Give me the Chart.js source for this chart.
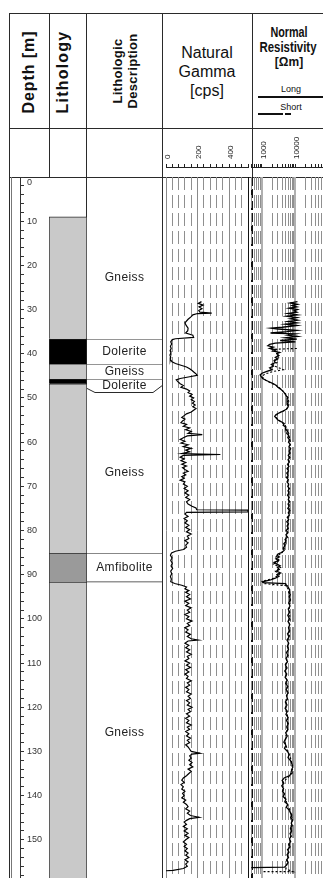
<!DOCTYPE html>
<html><head><meta charset="utf-8">
<script src="https://cdn.jsdelivr.net/npm/chart.js@4.4.1/dist/chart.umd.min.js"></script>
<style>
html,body{margin:0;padding:0;background:#fff;}
#wrap{position:relative;width:323px;height:878px;overflow:hidden;font-family:"Liberation Sans",Arial,sans-serif;color:#111;}
canvas{position:absolute;}
.ln{position:absolute;background:#2a2a2a;}
.t{position:absolute;white-space:nowrap;text-align:center;}
.rot{transform:translate(-50%,-50%) rotate(-90deg);font-weight:bold;}
.ctr{transform:translate(-50%,-50%);}
</style></head><body><div id="wrap">

<!-- header frame -->
<div class="ln" style="left:9px;top:13px;width:314px;height:1px"></div>
<div class="ln" style="left:9px;top:128px;width:314px;height:1px"></div>
<div class="ln" style="left:9px;top:177px;width:314px;height:1px"></div>
<div class="ln" style="left:9px;top:13px;width:1px;height:865px"></div>
<div class="ln" style="left:11px;top:177px;width:1px;height:701px;background:#777"></div>
<div class="ln" style="left:49px;top:13px;width:1px;height:164px"></div>
<div class="ln" style="left:86px;top:13px;width:1px;height:865px"></div>
<div class="ln" style="left:162px;top:13px;width:1px;height:865px"></div>
<div class="ln" style="left:252px;top:13px;width:1px;height:164px"></div>
<div class="ln" style="left:248px;top:177px;width:1px;height:701px;background:#111"></div>
<div class="ln" style="left:251px;top:177px;width:2px;height:701px;background:repeating-linear-gradient(to bottom,#111 0 9px,transparent 9px 12px)"></div>

<!-- header texts -->
<div class="t rot" style="left:29px;top:72px;font-size:16px;letter-spacing:0.9px">Depth [m]</div>
<div class="t rot" style="left:63px;top:72px;font-size:16px;letter-spacing:1.2px">Lithology</div>
<div class="t rot" style="left:125px;top:71px;font-size:13px;line-height:15px;letter-spacing:0.3px">Lithologic<br>Description</div>
<div class="t ctr" style="left:207px;top:71px;font-size:16px;line-height:19px;">Natural<br>Gamma<br>[cps]</div>
<div class="t ctr" style="left:289px;top:31px;font-size:15px;font-weight:bold;transform:translate(-50%,-50%) scaleX(0.72)">Normal</div>
<div class="t ctr" style="left:288px;top:46px;font-size:15px;font-weight:bold;transform:translate(-50%,-50%) scaleX(0.76)">Resistivity</div>
<div class="t ctr" style="left:289px;top:62px;font-size:12px;font-weight:bold;">[Ωm]</div>
<div class="t ctr" style="left:291px;top:89px;font-size:9px;">Long</div>
<div class="ln" style="left:258px;top:96px;width:65px;height:2px;background:#111"></div>
<div class="t ctr" style="left:291px;top:107px;font-size:9px;">Short</div>
<div class="ln" style="left:258px;top:113px;width:65px;height:2px;background:linear-gradient(to right,#111 0 25px,transparent 25px),repeating-linear-gradient(to right,transparent 0 27px,#111 27px 33px,transparent 33px 40px)"></div>

<canvas id="cDepth"></canvas>
<canvas id="cLith"></canvas>
<canvas id="cDesc"></canvas>
<canvas id="cGamS"></canvas>
<canvas id="cGam"></canvas>
<canvas id="cResS"></canvas>
<canvas id="cRes"></canvas>
</div>
<script>
// ---------------- data ----------------
const depthLabels = [0,10,20,30,40,50,60,70,80,90,100,110,120,130,140,150,160];
const lithRock   = ['Gneiss','Dolerite','Gneiss','Dolerite','Gneiss','Amfibolite','Gneiss'];
const lithTop    = [9, 36.6, 42.3, 45.7, 46.8, 85.1, 91.7];
const lithBottom = [36.6, 42.3, 45.7, 46.8, 85.1, 91.7, 160];
const descLabel  = ['Gneiss','Dolerite','Gneiss','Dolerite','Gneiss','Amfibolite','Gneiss'];
const descTop    = [9, 36.6, 42.3, 45.7, 48.6, 85.1, 91.7];
const descBottom = [36.6, 42.3, 45.7, 48.6, 85.1, 91.7, 160];

const gammaGrid   = [0,40,80,120,160,200,240,280,320,360,400,440,480,520];
const gammaLabels = [0,200,400];
const resGrid     = [500,600,700,800,900,1000,2000,3000,4000,5000,6000,7000,8000,9000,10000,20000,30000,40000,50000,60000,70000,80000,90000,100000];
const resLabels   = [1000,10000,100000];

const gammaDepth = [28.2,28.6,29.0,29.4,29.8,30.2,30.6,30.8,30.9,31.2,31.6,32.2,33.0,33.6,34.2,34.8,35.3,35.8,36.3,36.6,36.8,37.3,37.8,38.3,38.8,39.3,39.8,40.3,40.8,41.3,41.8,42.2,42.6,43.0,43.4,43.8,44.2,44.6,44.9,45.2,45.6,45.9,46.3,46.8,47.2,47.6,48.0,48.4,48.8,49.2,49.6,50.0,50.4,50.8,51.2,51.6,52.0,52.4,52.8,53.2,53.6,54.0,54.4,54.8,55.2,55.6,56.0,56.4,56.8,57.2,57.6,58.0,58.3,58.6,59.0,59.4,59.8,60.2,60.6,61.0,61.4,61.8,62.2,62.6,62.8,63.0,63.4,63.8,64.2,64.6,65.0,65.4,65.8,66.2,66.6,67.0,67.4,67.8,68.2,68.6,69.0,69.5,70.0,70.5,71.0,71.5,72.0,72.5,73.0,73.5,74.0,74.5,74.9,75.3,75.4,75.8,75.9,76.3,76.8,77.3,77.8,78.3,78.8,79.3,79.8,80.3,80.8,81.3,81.8,82.3,82.8,83.3,83.8,84.3,84.7,85.1,85.6,86.2,86.8,87.4,88.0,88.6,89.2,89.8,90.4,91.0,91.6,92.0,92.4,92.8,93.2,93.6,94.0,94.5,95.0,95.5,96.0,96.5,97.0,97.5,98.0,98.5,99.0,99.5,100.0,100.5,101.0,101.5,102.0,102.5,103.0,103.5,104.0,104.5,104.8,105.0,105.5,106.0,106.5,107.0,107.5,108.0,108.5,109.0,109.5,110.0,110.5,111.0,111.5,112.0,112.5,113.0,113.5,114.0,114.5,115.0,115.5,116.0,116.5,117.0,117.5,118.0,118.5,119.0,119.5,120.0,120.5,121.0,121.5,122.0,122.5,123.0,123.5,124.0,124.5,125.0,125.5,126.0,126.5,127.0,127.5,128.0,128.5,129.0,129.5,130.0,130.4,130.6,131.0,131.5,132.0,132.5,133.0,133.5,134.0,134.5,135.0,135.5,136.0,136.5,137.0,137.5,138.0,138.5,139.0,139.5,140.0,140.5,141.0,141.5,142.0,142.5,143.0,143.5,144.0,144.5,144.9,145.2,145.6,146.0,146.5,147.0,147.5,148.0,148.5,149.0,149.5,150.0,150.5,151.0,151.5,152.0,152.5,153.0,153.5,154.0,154.5,155.0,155.5,156.0,156.5,156.9,157.0];
const gammaCps = [225,205,235,210,228,208,215,290,200,170,160,140,120,128,140,138,125,170,175,60,40,30,36,28,33,26,31,25,30,27,38,60,95,130,150,165,178,192,198,150,90,65,75,90,110,95,130,150,140,165,150,175,160,180,168,185,170,190,175,160,130,115,100,120,105,95,130,110,150,125,160,140,230,135,110,90,120,95,140,110,160,125,150,100,345,110,90,115,95,125,100,130,105,120,140,110,125,100,115,90,120,110,135,115,140,120,145,125,150,130,140,165,190,195,520,520,130,120,140,115,135,120,145,125,150,130,160,135,145,120,140,125,130,110,60,35,28,38,30,40,32,42,30,36,28,34,30,55,100,130,120,145,125,150,130,155,120,145,125,160,135,150,120,145,130,165,135,150,120,140,125,155,135,160,205,140,120,145,125,150,130,160,135,145,120,150,130,155,125,145,120,140,130,160,135,150,125,145,130,160,140,155,130,150,135,165,140,155,130,150,125,145,130,160,135,150,125,145,130,155,135,150,125,140,150,160,215,165,150,160,145,165,150,170,140,160,145,130,110,100,115,95,110,100,120,105,115,100,125,110,130,140,125,150,135,155,210,150,130,115,130,110,135,115,140,120,145,125,110,130,115,135,120,140,125,145,120,140,125,135,110,45,0];

const resLongDepth = [28.2,28.5,28.8,29.1,29.4,29.7,30.0,30.3,30.6,30.9,31.2,31.5,31.8,32.1,32.4,32.7,33.0,33.3,33.6,34.0,34.2,34.4,34.7,35.0,35.3,35.5,35.8,36.1,36.4,36.7,37.0,37.3,37.6,37.9,38.2,38.5,38.8,39.1,39.4,39.7,40.0,40.4,40.8,41.2,41.6,42.0,42.4,42.8,43.2,43.6,44.0,44.4,44.8,45.2,45.6,46.0,46.4,46.8,47.2,47.6,48.0,48.4,48.8,49.2,49.6,50.0,50.5,51.0,51.5,52.0,52.5,53.0,53.4,53.8,54.2,54.6,55.0,55.4,55.8,56.2,56.6,57.0,57.5,58.0,58.5,59.0,59.5,60.0,60.5,61.0,61.5,62.0,62.5,63.0,63.5,64.0,64.5,65.0,65.5,66.0,66.5,67.0,67.5,68.0,68.5,69.0,69.5,70.0,70.5,71.0,71.5,72.0,72.5,73.0,73.5,74.0,74.5,75.0,75.5,76.0,76.5,77.0,77.5,78.0,78.5,79.0,79.5,80.0,80.5,81.0,81.5,82.0,82.5,83.0,83.5,84.0,84.5,85.0,85.3,85.6,86.0,86.4,86.8,87.2,87.6,88.0,88.4,88.8,89.2,89.6,90.0,90.4,90.8,91.2,91.6,91.8,92.0,92.3,92.6,93.0,93.5,94.0,94.5,95.0,95.7,96.4,97.1,97.8,98.5,99.2,99.9,100.6,101.3,102.0,102.7,103.4,104.1,104.8,105.5,106.2,106.9,107.6,108.3,109.0,109.7,110.4,111.1,111.8,112.5,113.2,113.9,114.6,115.3,116.0,116.7,117.4,118.1,118.8,119.5,120.2,120.9,121.6,122.3,123.0,123.7,124.4,125.1,125.8,126.5,127.2,127.9,128.6,129.3,130.0,130.7,131.4,132.1,132.8,133.5,134.2,134.9,135.5,136.0,136.6,137.2,137.8,138.4,139.0,139.6,140.2,140.8,141.4,142.0,142.6,143.2,143.8,144.4,145.0,145.6,146.2,146.8,147.4,148.0,148.6,149.2,149.8,150.4,151.0,151.6,152.2,152.8,153.4,154.0,154.6,155.2,155.8,156.2,156.3];
const resLong = [11500,7000,11500,8000,11000,6500,11500,9000,11000,6000,11500,5500,11000,7000,11500,6000,11000,5000,11000,4000,1900,3000,11000,5500,1800,10000,6000,11500,5000,11000,3500,10000,2500,1700,1500,2200,1700,2600,2100,3400,2800,3200,2500,2900,2300,2500,1900,2200,1700,2000,1400,1000,880,950,1050,1300,1700,2200,2700,3000,3600,4100,4600,5000,5400,5800,5600,6000,5700,6100,5500,4200,3200,2600,2400,2700,3000,3800,4600,4300,5200,5000,5800,5500,6300,5900,6800,6200,7000,6400,7200,6500,6900,6100,6800,6000,6600,5800,6400,5600,6200,5500,6000,5400,6100,5600,6300,5900,6600,6000,6400,5800,6500,6100,6700,6000,6500,5900,6800,6100,6600,5700,6300,5500,6200,5600,6100,5300,6000,5200,5800,4900,5200,4500,4800,4300,4600,3800,3000,2800,3300,2600,3100,2300,2800,3500,2900,3300,2700,3600,2800,3200,2500,1800,1050,1100,5000,5200,5900,6200,6800,6300,7000,6500,7100,6300,6900,6100,6700,5900,6600,6000,6800,6200,6700,5800,6400,5600,6300,5700,6200,5400,6000,5200,5800,5000,5600,4800,5500,4900,5700,5100,5900,5300,6000,5400,5800,5000,5600,4900,5700,5200,6000,5400,6100,5500,5900,5100,5700,5000,4500,5200,4700,5800,6500,6000,7200,7800,8400,7600,8000,6500,4600,4000,4500,3900,4400,4100,4700,4300,5200,4800,5900,5300,6400,7000,7800,7200,8300,7500,8000,7100,7700,6900,7500,6600,7200,6300,6900,5800,6400,5600,6200,5400,6000,5300,4700,480];

const resShortDepth = [38.8,39.0,39.6,40.2,40.8,41.4,42.0,42.6,43.2,43.6,44.0,44.6,45.2,45.8,46.4,47.0,47.6,48.4,49.2,50.0,51.0,52.0,52.8,53.6,54.4,55.2,56.0,57.0,58.0,60.0,62.0,64.0,66.0,68.0,70.0,72.0,74.0,76.0,78.0,80.0,82.0,84.0,85.0,86.0,86.8,87.6,88.4,89.2,90.0,90.8,91.5,92.0,92.5,94.0,96.0,98.0,100.0,102.0,104.0,106.0,108.0,110.0,112.0,114.0,116.0,118.0,120.0,122.0,124.0,126.0,128.0,130.0,132.0,134.0,135.5,137.0,139.0,141.0,143.0,145.0,147.0,149.0,151.0,153.0,155.0,156.6,157.2,157.2];
const resShort = [11000,2000,3000,2600,3400,2400,2800,2100,3300,4300,2200,1200,1000,1200,1600,2400,3200,4200,5200,6000,6400,6200,4800,2900,2600,3400,4800,5500,6300,7000,6800,6400,6000,5800,6300,6200,6500,6500,6000,5700,5200,4700,4000,2600,3400,2200,3600,2500,3300,2200,1000,1100,5400,6700,6800,6500,6900,6400,6600,6000,5800,5300,5100,5500,5600,5600,5200,5800,5800,5400,4900,6000,7500,8200,6800,4200,4300,5100,6600,7900,7600,7200,6600,6000,5700,5200,8300,1050];

// ---------------- helpers ----------------
Chart.defaults.font.family = '"Liberation Sans", Arial, sans-serif';
Chart.defaults.color = '#222';
function cv(id, x, y, w, h){
  const c = document.getElementById(id);
  c.width = w; c.height = h;
  c.style.left = x + 'px'; c.style.top = y + 'px';
  c.style.width = w + 'px'; c.style.height = h + 'px';
  return c;
}
const base = {animation:false, responsive:false, events:[], devicePixelRatio:1,
  plugins:{legend:{display:false}, tooltip:{enabled:false}}};
function opts(extra){ return Object.assign({}, base, extra); }
const depthAxis = {type:'linear', reverse:true, min:0, max:160, display:false};
const rockColor = {Gneiss:'#c9c9c9', Dolerite:'#000000', Amfibolite:'#9a9a9a'};

// ---------------- depth axis ----------------
const depthTicks = [];
for (let d = 0; d <= 160; d += 2) depthTicks.push(d);
new Chart(cv('cDepth', 10, 170, 39, 724), {
  type:'scatter', data:{datasets:[]},
  options: opts({
    layout:{padding:{top:7, bottom:10, left:0, right:0}},
    scales:{
      x:{display:false, min:0, max:1},
      y:{type:'linear', position:'right', reverse:true, min:0, max:160,
        afterBuildTicks: s => { s.ticks = depthTicks.map(v => ({value:v})); },
        afterFit: s => { s.width = 29; s.paddingTop = 0; s.paddingBottom = 0; },
        grid:{drawOnChartArea:false, drawTicks:true, tickLength:4, color:'#333'},
        border:{display:true, color:'#333'},
        ticks:{autoSkip:false, padding:3, color:'#333', font:{size:9},
          callback: v => v === 0 ? ['', '0'] : (depthLabels.includes(v) ? String(v) : '')}
      }
    }
  })
});

// ---------------- lithology ----------------
new Chart(cv('cLith', 49, 177, 38, 707), {
  type:'bar',
  data:{labels:['L'], datasets: lithRock.map((r, i) => ({
    data:[[lithTop[i], lithBottom[i]]],
    backgroundColor: rockColor[r], borderColor:'#2a2a2a',
    borderWidth:{top:1, left:1, right:1, bottom:0}, borderSkipped:false,
    grouped:false, barPercentage:1, categoryPercentage:1
  }))},
  options: opts({scales:{x:{display:false}, y:depthAxis}})
});

// ---------------- description ----------------
const CHAMFER = 3;
const descBorders = [
  {top:0,bottom:0},{top:1,bottom:0},{top:1,bottom:0},{top:1,bottom:0},
  {top:0,bottom:0},{top:1,bottom:1},{top:0,bottom:0}];
const descPlugin = {
  id:'descText',
  afterDatasetsDraw(chart){
    const ctx = chart.ctx, y = chart.scales.y, a = chart.chartArea;
    ctx.save();
    const yT = y.getPixelForValue(descTop[CHAMFER]);
    const yB = Math.round(y.getPixelForValue(descBottom[CHAMFER])) + 0.5;
    const yCl = yT + (yB - yT) * 0.7, yCr = yT + (yB - yT) * 0.5;
    ctx.strokeStyle = '#2a2a2a'; ctx.lineWidth = 1;
    ctx.beginPath();
    ctx.moveTo(a.left, yCl); ctx.lineTo(a.left + 8, yB);
    ctx.lineTo(a.right - 9, yB); ctx.lineTo(a.right, yCr);
    ctx.stroke();
    ctx.fillStyle = '#222';
    ctx.font = '12px "Liberation Sans", Arial, sans-serif';
    ctx.letterSpacing = '0.4px';
    ctx.textAlign = 'center'; ctx.textBaseline = 'middle';
    descLabel.forEach((t, k) => {
      const yc = y.getPixelForValue((descTop[k] + descBottom[k]) / 2);
      ctx.fillText(t, (a.left + a.right) / 2, yc);
    });
    ctx.restore();
  }
};
new Chart(cv('cDesc', 87, 177, 75, 707), {
  type:'bar',
  data:{labels:['D'], datasets: descLabel.map((t, i) => ({
    data:[[descTop[i], descBottom[i]]],
    backgroundColor:'#ffffff', borderColor:'#2a2a2a',
    borderWidth:{top:descBorders[i].top, bottom:descBorders[i].bottom, left:0, right:0},
    borderSkipped:false, grouped:false, barPercentage:1, categoryPercentage:1
  }))},
  options: opts({scales:{x:{display:false}, y:depthAxis}}),
  plugins:[descPlugin]
});

// ---------------- gamma track ----------------
const dashMinor = [13, 5];
new Chart(cv('cGam', 164, 177, 88, 707), {
  type:'scatter',
  data:{datasets:[{
    data: gammaDepth.map((d, i) => ({x: gammaCps[i], y: d})),
    showLine:true, pointRadius:0, borderColor:'#000', borderWidth:1.2, tension:0
  }]},
  options: opts({
    layout:{padding:{left:2, right:4, top:0, bottom:0}},
    scales:{
      x:{type:'linear', position:'bottom', min:0, max:520,
        afterBuildTicks: s => { s.ticks = gammaGrid.map(v => ({value:v})); },
        afterFit: s => { s.height = 0; s.paddingLeft = 0; s.paddingRight = 0; },
        ticks:{display:false},
        grid:{drawTicks:false, lineWidth:1,
          color: c => (c.tick && c.tick.value === 520) ? 'rgba(0,0,0,0)' :
                      (c.tick && c.tick.value % 200 === 0) ? '#8a8a8a' : '#8f8f8f'},
        border:{display:false, dash: c => (c.tick && c.tick.value % 200 === 0) ? [] : dashMinor}
      },
      y: depthAxis
    }
  })
});
new Chart(cv('cGamS', 156, 128, 100, 49), {
  type:'scatter', data:{datasets:[]},
  options: opts({
    layout:{padding:{left:10, right:8, top:0, bottom:9}},
    scales:{
      x:{type:'linear', position:'top', min:0, max:520,
        afterBuildTicks: s => { s.ticks = gammaGrid.map(v => ({value:v})); },
        afterFit: s => { s.height = 39; s.paddingLeft = 0; s.paddingRight = 0; },
        grid:{drawOnChartArea:false, drawTicks:true, tickLength:3, color:'#222'},
        border:{display:true, color:'#222'},
        ticks:{autoSkip:false, minRotation:90, maxRotation:90, padding:5, labelOffset:11, color:'#222', font:{size:8},
          callback: v => gammaLabels.includes(v) ? String(v) : ''}
      },
      y:{display:false, min:0, max:1}
    }
  })
});

// ---------------- resistivity track ----------------
new Chart(cv('cRes', 249, 177, 90, 707), {
  type:'scatter',
  data:{datasets:[
    {data: resLongDepth.map((d, i) => ({x: resLong[i], y: d})),
     showLine:true, pointRadius:0, borderColor:'#000', borderWidth:1.3, tension:0},
    {data: resShortDepth.map((d, i) => ({x: resShort[i], y: d})),
     showLine:true, pointRadius:0, borderColor:'#000', borderWidth:1.1, borderDash:[2,2], tension:0}
  ]},
  options: opts({
    layout:{padding:{left:2, right:0, top:0, bottom:0}},
    scales:{
      x:{type:'logarithmic', position:'bottom', min:470, max:200000,
        afterBuildTicks: s => { s.ticks = resGrid.map(v => ({value:v})); },
        afterFit: s => { s.height = 0; s.paddingLeft = 0; s.paddingRight = 0; },
        ticks:{display:false},
        grid:{drawTicks:false,
          lineWidth: c => (c.tick && resLabels.includes(c.tick.value)) ? 2 : 1,
          color: c => (c.tick && resLabels.includes(c.tick.value)) ? '#b0b0b0' : '#8f8f8f'},
        border:{display:false, dash: c => (c.tick && resLabels.includes(c.tick.value)) ? [] : dashMinor}
      },
      y: depthAxis
    }
  })
});
new Chart(cv('cResS', 249, 128, 90, 49), {
  type:'scatter', data:{datasets:[]},
  options: opts({
    layout:{padding:{left:2, right:0, top:0, bottom:9}},
    scales:{
      x:{type:'logarithmic', position:'top', min:470, max:200000,
        afterBuildTicks: s => { s.ticks = resGrid.map(v => ({value:v})); },
        afterFit: s => { s.height = 39; s.paddingLeft = 0; s.paddingRight = 0; },
        grid:{drawOnChartArea:false, drawTicks:true, tickLength:3, color:'#222'},
        border:{display:true, color:'#222'},
        ticks:{autoSkip:false, minRotation:90, maxRotation:90, padding:5, labelOffset:11, color:'#222', font:{size:8},
          callback: v => resLabels.includes(v) ? String(v) : ''}
      },
      y:{display:false, min:0, max:1}
    }
  })
});
</script>
</body></html>
